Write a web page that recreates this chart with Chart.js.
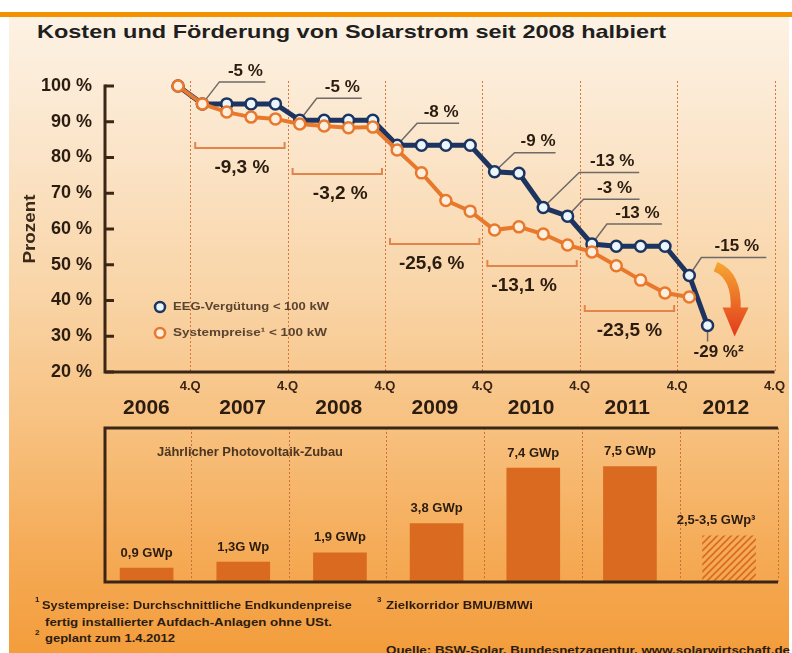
<!DOCTYPE html>
<html><head><meta charset="utf-8">
<script src="https://cdn.jsdelivr.net/npm/chart.js@4"></script>
<style>
html,body{margin:0;padding:0;}
body{width:792px;height:653px;overflow:hidden;position:relative;background:#fff;font-family:'Liberation Sans',Arial,sans-serif;}
#bg{position:absolute;left:9px;top:17px;width:780px;height:636px;
 background:linear-gradient(to bottom,#fdf2e4 0px,#fbe6cc 120px,#f9d4a6 280px,#f7bf7c 420px,#f5aa55 540px,#f39d3c 636px);}
#band{position:absolute;left:0;top:12px;width:792px;height:5px;background:#f39200;}
.t{position:absolute;white-space:nowrap;transform-origin:0 0;color:#2b1c10;font-weight:bold;}
#title{left:37px;top:22px;font-size:19px;line-height:19px;color:#1f1f1f;}
.fn{font-size:11px;line-height:11px;}
.sup{font-size:8px;line-height:8px;}
canvas{position:absolute;left:0;}
#top{top:0;}
#bot{top:420px;}
</style></head>
<body>
<div id="bg"></div>
<div id="band"></div>
<div id="title" class="t" data-w="629">Kosten und Förderung von Solarstrom seit 2008 halbiert</div>
<canvas id="top" width="792" height="430"></canvas>
<canvas id="bot" width="792" height="175"></canvas>
<div class="t sup" style="left:35px;top:596px;">1</div>
<div class="t fn" style="left:42px;top:600px;" data-w="310">Systempreise: Durchschnittliche Endkundenpreise</div>
<div class="t fn" style="left:45px;top:617px;" data-w="287">fertig installierter Aufdach-Anlagen ohne USt.</div>
<div class="t sup" style="left:35px;top:629px;">2</div>
<div class="t fn" style="left:45px;top:633px;" data-w="130">geplant zum 1.4.2012</div>
<div class="t sup" style="left:377px;top:596px;">3</div>
<div class="t fn" style="left:386px;top:600px;" data-w="147">Zielkorridor BMU/BMWi</div>
<div class="t fn" style="left:386px;top:645px;" data-w="404">Quelle: BSW-Solar, Bundesnetzagentur, www.solarwirtschaft.de</div>
<script>
// ---------- data ----------
const quarterTicks = [0.5, 4.5, 8.5, 12.5, 16.5, 20.5, 24.5];
const quarterLabel = '4.Q';
const years = ['2006', '2007', '2008', '2009', '2010', '2011', '2012'];
const yearPos = [-1.3, 2.65, 6.6, 10.55, 14.5, 18.45, 22.5];

const eegQuarter = [0, 1, 2, 3, 4, 5, 6, 7, 8, 9, 10, 11, 12, 13, 14, 15, 16, 17, 18, 19, 20, 21, 21.75];
const eegValues  = [100, 95, 95, 95, 95, 90.4, 90.4, 90.4, 90.4, 83.4, 83.4, 83.4, 83.4, 76, 75.6, 66, 63.6, 55.8, 55.2, 55.2, 55.2, 47, 33];

const sysQuarter = [0, 1, 2, 3, 4, 5, 6, 7, 8, 9, 10, 11, 12, 13, 14, 15, 16, 17, 18, 19, 20, 21];
const sysValues  = [100, 95, 92.7, 91.3, 90.8, 89.4, 88.8, 88.3, 88.5, 82.1, 75.7, 68, 65, 59.7, 60.6, 58.6, 55.5, 53.6, 49.7, 45.7, 42.1, 41];

const eegChanges  = ['-5 %', '-5 %', '-8 %', '-9 %', '-13 %', '-3 %', '-13 %', '-15 %', '-29 %²'];
const eegChangeAt = [1, 5, 9, 13, 15, 16, 17, 21, 22];

const sysChanges = ['-9,3 %', '-3,2 %', '-25,6 %', '-13,1 %', '-23,5 %'];

const zubauValues = [0.9, 1.3, 1.9, 3.8, 7.4, 7.5, 3.0];
const zubauLabels = ['0,9 GWp', '1,3G Wp', '1,9 GWp', '3,8 GWp', '7,4 GWp', '7,5 GWp', '2,5-3,5 GWp³'];

const seriesNames = ['EEG-Vergütung < 100 kW', 'Systempreise¹ < 100 kW'];

// ---------- layout (positions of annotations) ----------
const calloutLayout = [
  {dx:17, dy:-22, len:46}, {dx:17, dy:-22, len:45}, {dx:20, dy:-22, len:42},
  {dx:20, dy:-19, len:41}, {dx:36, dy:-35, len:60}, {dx:16, dy:-17, len:56},
  {dx:15, dy:-20, len:55}, {dx:12, dy:-18, len:65}, {down:true}
];
const bracketLayout = [{y:82.7, dx:2}, {y:75.4, dx:3}, {y:55.8, dx:-3}, {y:49.65, dx:-8}, {y:37.1, dx:0}];
const barLabelDx = [0, 0, 0, 0, 0, 0, -13];

const INK = '#2b1c10';
const AXIS = '#3b2616';
const NAVY = '#1d3461';
const ORANGE = '#e8782b';
const FONT = "'Liberation Sans', Arial, sans-serif";
Chart.defaults.font.family = FONT;

function drawText(ctx, s, x, y, o) {
  ctx.save();
  ctx.font = o.font;
  ctx.fillStyle = o.color || INK;
  ctx.textBaseline = 'middle';
  ctx.textAlign = 'left';
  const m = ctx.measureText(s).width;
  const sx = o.w ? o.w / m : 1;
  const W = m * sx;
  const x0 = o.align === 'left' ? x : (o.align === 'right' ? x - W : x - W / 2);
  ctx.translate(x0, y);
  ctx.scale(sx, 1);
  ctx.fillText(s, 0, 0);
  ctx.restore();
}

const topDecor = {
  id: 'topDecor',
  beforeDatasetsDraw(chart) {
    const {ctx, chartArea: a, scales: {x: xs, y: ys}} = chart;
    ctx.save();
    ctx.strokeStyle = '#d9753d'; ctx.lineWidth = 1; ctx.setLineDash([2, 2]);
    quarterTicks.forEach(q => {
      const px = Math.round(xs.getPixelForValue(q)) + 0.5;
      ctx.beginPath(); ctx.moveTo(px, a.top - 5); ctx.lineTo(px, a.bottom); ctx.stroke();
    });
    ctx.setLineDash([]);
    // brackets
    ctx.strokeStyle = '#e3844a'; ctx.lineWidth = 2;
    sysChanges.forEach((s, i) => {
      const x0 = xs.getPixelForValue(quarterTicks[i]) + 5;
      const x1 = xs.getPixelForValue(quarterTicks[i + 1]) - 3;
      const y = Math.round(ys.getPixelForValue(bracketLayout[i].y));
      ctx.beginPath(); ctx.moveTo(x0, y - 6); ctx.lineTo(x0, y); ctx.lineTo(x1, y); ctx.lineTo(x1, y - 6); ctx.stroke();
    });
    // callout leaders
    const meta = chart.getDatasetMeta(0);
    ctx.strokeStyle = '#6e6a66'; ctx.lineWidth = 1.5;
    eegChangeAt.forEach((idx, i) => {
      const p = meta.data[idx]; const L = calloutLayout[i];
      ctx.beginPath();
      if (L.down) { ctx.moveTo(p.x, p.y); ctx.lineTo(p.x, p.y + 16); }
      else { ctx.moveTo(p.x, p.y); ctx.lineTo(p.x + L.dx, p.y + L.dy); ctx.lineTo(p.x + L.dx + L.len, p.y + L.dy); }
      ctx.stroke();
    });
    ctx.restore();
  },
  afterDatasetsDraw(chart) {
    const {ctx, chartArea: a, scales: {x: xs, y: ys}} = chart;
    ctx.save();
    // axes
    ctx.strokeStyle = AXIS; ctx.lineWidth = 3;
    ctx.beginPath(); ctx.moveTo(a.left, a.top - 1.5); ctx.lineTo(a.left, a.bottom); ctx.lineTo(a.right, a.bottom); ctx.stroke();
    ys.ticks.forEach(t => {
      const py = ys.getPixelForValue(t.value);
      ctx.beginPath(); ctx.moveTo(a.left, py); ctx.lineTo(a.left + 9, py); ctx.stroke();
    });
    ctx.restore();
    // bracket labels
    sysChanges.forEach((s, i) => {
      const x0 = xs.getPixelForValue(quarterTicks[i]) + 5;
      const x1 = xs.getPixelForValue(quarterTicks[i + 1]) - 3;
      const y = ys.getPixelForValue(bracketLayout[i].y);
      drawText(ctx, s, (x0 + x1) / 2 + bracketLayout[i].dx, y + 20, {font: 'bold 19px ' + FONT});
    });
    // callout labels
    const meta = chart.getDatasetMeta(0);
    eegChangeAt.forEach((idx, i) => {
      const p = meta.data[idx]; const L = calloutLayout[i];
      if (L.down) drawText(ctx, eegChanges[i], p.x + 11, p.y + 27, {font: 'bold 17px ' + FONT});
      else drawText(ctx, eegChanges[i], p.x + L.dx + L.len / 2 + 3, p.y + L.dy - 11, {font: 'bold 17px ' + FONT});
    });
    // arrow
    const lp = meta.data[meta.data.length - 1];
    ctx.save();
    const g = ctx.createLinearGradient(0, lp.y - 60, 0, lp.y + 11);
    g.addColorStop(0, '#f5a231'); g.addColorStop(1, '#e23a1c');
    ctx.strokeStyle = g; ctx.fillStyle = g; ctx.lineWidth = 10;
    ctx.beginPath(); ctx.moveTo(lp.x + 8, lp.y - 59); ctx.quadraticCurveTo(lp.x + 30, lp.y - 50, lp.x + 28, lp.y - 15); ctx.stroke();
    ctx.beginPath(); ctx.moveTo(lp.x + 15, lp.y - 18); ctx.lineTo(lp.x + 41, lp.y - 18); ctx.lineTo(lp.x + 27, lp.y + 11); ctx.closePath(); ctx.fill();
    ctx.restore();
    // legend
    const lx = a.left + 55, ly = [a.bottom - 65, a.bottom - 39];
    const lc = [[NAVY, '#eaf6fb'], [ORANGE, '#fdeedd']];
    ly.forEach((y, i) => {
      ctx.save(); ctx.beginPath(); ctx.arc(lx, y, 5, 0, Math.PI * 2);
      ctx.fillStyle = lc[i][1]; ctx.fill(); ctx.lineWidth = 2.5; ctx.strokeStyle = lc[i][0]; ctx.stroke(); ctx.restore();
      drawText(ctx, seriesNames[i], lx + 13, y, {font: 'bold 11px ' + FONT, color: '#5a4430', align: 'left', w: i ? 154 : 156});
    });
    // years
    years.forEach((yr, i) => drawText(ctx, yr, xs.getPixelForValue(yearPos[i]), 408, {font: 'bold 21px ' + FONT}));
    // y title
    ctx.save(); ctx.translate(30, 229); ctx.rotate(-Math.PI / 2);
    drawText(ctx, 'Prozent', 0, 0, {font: 'bold 17px ' + FONT, color: '#3b2a1a', w: 69});
    ctx.restore();
  }
};

new Chart(document.getElementById('top'), {
  type: 'line',
  data: {
    datasets: [
      {label: seriesNames[0], data: eegQuarter.map((q, i) => ({x: q, y: eegValues[i]})), order: 2,
       borderColor: NAVY, borderWidth: 5, pointRadius: 5.5, pointBorderWidth: 2.5,
       pointBackgroundColor: '#eaf6fb', pointBorderColor: NAVY, tension: 0, clip: false},
      {label: seriesNames[1], data: sysQuarter.map((q, i) => ({x: q, y: sysValues[i]})), order: 1,
       borderColor: ORANGE, borderWidth: 4, pointRadius: 5.5, pointBorderWidth: 2.5,
       pointBackgroundColor: '#fdeedd', pointBorderColor: ORANGE, tension: 0, clip: false}
    ]
  },
  options: {
    responsive: false, animation: false, devicePixelRatio: 1,
    layout: {padding: {left: 0, right: 14, top: 86, bottom: 0}},
    plugins: {legend: {display: false}, tooltip: {enabled: false}},
    scales: {
      x: {type: 'linear', min: -3, max: 24.5,
          afterBuildTicks: s => { s.ticks = quarterTicks.map(v => ({value: v})); },
          afterFit: s => { s.height = 58; },
          grid: {display: false, drawTicks: false}, border: {display: false},
          ticks: {callback: () => quarterLabel, padding: 7, color: AXIS, font: {size: 13, weight: 'bold'}, maxRotation: 0, autoSkip: false}},
      y: {min: 20, max: 100,
          afterFit: s => { s.width = 105; },
          grid: {display: false, drawTicks: false}, border: {display: false},
          ticks: {stepSize: 10, callback: v => v + ' %', padding: 13, color: INK, font: {size: 18, weight: 'bold'}}}
    }
  },
  plugins: [topDecor]
});

function makeHatch() {
  const c = document.createElement('canvas'); c.width = 7; c.height = 7;
  const g = c.getContext('2d');
  g.strokeStyle = '#d86a22'; g.lineWidth = 1.6;
  g.beginPath(); g.moveTo(0, 7); g.lineTo(7, 0); g.moveTo(-1, 1); g.lineTo(1, -1); g.moveTo(6, 8); g.lineTo(8, 6); g.stroke();
  return g.createPattern(c, 'repeat');
}

const botDecor = {
  id: 'botDecor',
  beforeDatasetsDraw(chart) {
    const {ctx, chartArea: a, scales: {x: xs}} = chart;
    ctx.save();
    ctx.strokeStyle = '#c9703d'; ctx.lineWidth = 1; ctx.setLineDash([2, 2]);
    quarterTicks.forEach(q => {
      const px = Math.round(xs.getPixelForValue(q)) + 0.5;
      ctx.beginPath(); ctx.moveTo(px, a.top); ctx.lineTo(px, a.bottom); ctx.stroke();
    });
    ctx.restore();
  },
  afterDatasetsDraw(chart) {
    const {ctx, chartArea: a} = chart;
    ctx.save();
    ctx.strokeStyle = AXIS; ctx.lineWidth = 3;
    ctx.beginPath(); ctx.moveTo(a.right, a.top); ctx.lineTo(a.left, a.top); ctx.lineTo(a.left, a.bottom); ctx.lineTo(a.right, a.bottom); ctx.stroke();
    ctx.restore();
    drawText(ctx, 'Jährlicher Photovoltaik-Zubau', a.left + 145, a.top + 25, {font: 'bold 12px ' + FONT, color: '#4a3622', w: 186});
    const meta = chart.getDatasetMeta(0);
    meta.data.forEach((b, i) => drawText(ctx, zubauLabels[i], b.x + barLabelDx[i], b.y - 15, {font: 'bold 13px ' + FONT}));
  }
};

const hatch = makeHatch();
new Chart(document.getElementById('bot'), {
  type: 'bar',
  data: {datasets: [{
    data: yearPos.map((x, i) => ({x: x, y: zubauValues[i]})),
    backgroundColor: zubauValues.map((v, i) => i === zubauValues.length - 1 ? hatch : '#d96a20'),
    barThickness: 53, borderWidth: 0
  }]},
  options: {
    responsive: false, animation: false, devicePixelRatio: 1,
    layout: {padding: {left: 105, right: 14, top: 8, bottom: 13}},
    plugins: {legend: {display: false}, tooltip: {enabled: false}},
    scales: {x: {type: 'linear', min: -3, max: 24.5, offset: false, display: false}, y: {min: 0, max: 10, display: false}}
  },
  plugins: [botDecor]
});

// fit HTML texts to measured widths
document.querySelectorAll('[data-w]').forEach(el => {
  const w = el.getBoundingClientRect().width;
  const target = parseFloat(el.dataset.w);
  el.style.transform = 'scaleX(' + (target / w) + ')';
});
</script>
</body></html>
